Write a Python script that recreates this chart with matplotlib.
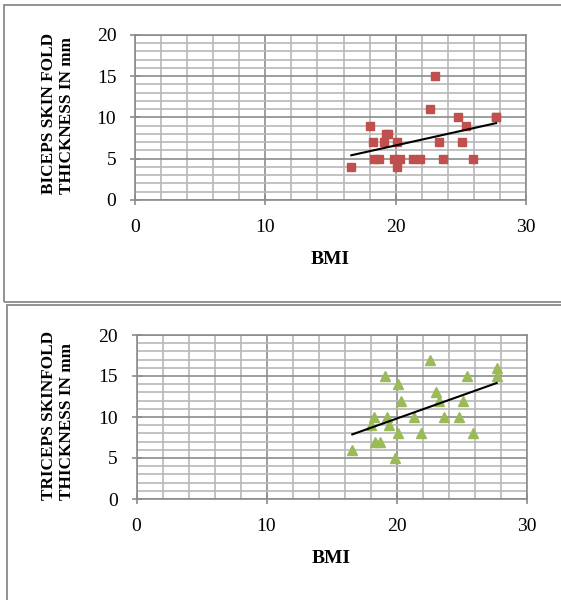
import numpy as np
import matplotlib.pyplot as plt
from matplotlib.patches import Rectangle
from matplotlib.ticker import MultipleLocator

bmi = [16.6, 18.05, 18.25, 18.35, 18.7, 19.1, 19.25, 19.4, 19.9, 20.1, 20.1, 20.35,
       21.35, 21.9, 22.6, 23.0, 23.3, 23.65, 24.8, 25.1, 25.4, 25.9, 27.7, 27.7]
biceps = [4, 9, 7, 5, 5, 7, 8, 8, 5, 7, 4, 5, 5, 5, 11, 15, 7, 5, 10, 7, 9, 5, 10, 10]
triceps = [6, 9, 10, 7, 7, 15, 10, 9, 5, 14, 8, 12, 10, 8, 17, 13, 12, 10, 10, 12, 15, 8, 16, 15]

x_ticks = [0, 10, 20, 30]
y_ticks = [0, 5, 10, 15, 20]
x_label = 'BMI'
y_label_top = 'BICEPS SKIN FOLD\nTHICKNESS IN mm'
y_label_bottom = 'TRICEPS SKINFOLD\nTHICKNESS IN mm'

plt.rcParams['font.family'] = 'Liberation Serif'

W, H = 561, 600
fig = plt.figure(figsize=(W / 100, H / 100), dpi=100)

# panel borders (pixel coords from top-left)
border = '#8a8a8a'
fig.patches.append(Rectangle((4 / W, 1 - 302 / H), 600 / W, 297 / H, transform=fig.transFigure,
                             fill=False, ec=border, lw=1.3))
fig.patches.append(Rectangle((7 / W, -0.1), 600 / W, 1 - 305 / H + 0.1, transform=fig.transFigure,
                             fill=False, ec=border, lw=1.3))


def draw(rect, y, color, marker, ms, ylabel, label_y):
    ax = fig.add_axes(rect)
    ax.set_xlim(0, 30)
    ax.set_ylim(0, 20)
    ax.set_xticks(x_ticks)
    ax.set_yticks(y_ticks)
    ax.xaxis.set_minor_locator(MultipleLocator(2))
    ax.yaxis.set_minor_locator(MultipleLocator(1))
    ax.grid(which='major', color='#8c8c8c', lw=1.2)
    ax.grid(which='minor', color='#b8b8b8', lw=1.2)
    ax.set_axisbelow(True)
    for s in ax.spines.values():
        s.set_color('#8c8c8c')
        s.set_linewidth(1.2)
    ax.tick_params(which='major', direction='inout', length=7, width=1.2, color='#8c8c8c',
                   labelsize=14)
    ax.tick_params(axis='x', which='major', pad=10)
    ax.tick_params(axis='y', which='major', pad=10)
    ax.tick_params(which='minor', length=0)

    ax.plot(bmi, y, linestyle='none', marker=marker, color=color, ms=ms, zorder=3)
    k, b = np.polyfit(bmi, y, 1)
    xs = np.array([min(bmi), max(bmi)])
    ax.plot(xs, k * xs + b, color='black', lw=1.5, zorder=4)

    ax.set_xlabel(x_label, fontsize=14, fontweight='bold', labelpad=11)
    fig.text(58 / W, 1 - label_y / H, ylabel, rotation=90, ha='center', va='center',
             multialignment='left', fontsize=12.4, fontweight='bold', linespacing=1.1)
    return ax


draw([135 / W, 1 - 200 / H, 391 / W, 165 / H], biceps, '#c0504d', 's', 5.2, y_label_top, 113)
draw([136.5 / W, 1 - 499 / H, 390 / W, 164 / H], triceps, '#9bbb59', '^', 6.5, y_label_bottom, 415)

fig.savefig('out.png', dpi=100)
